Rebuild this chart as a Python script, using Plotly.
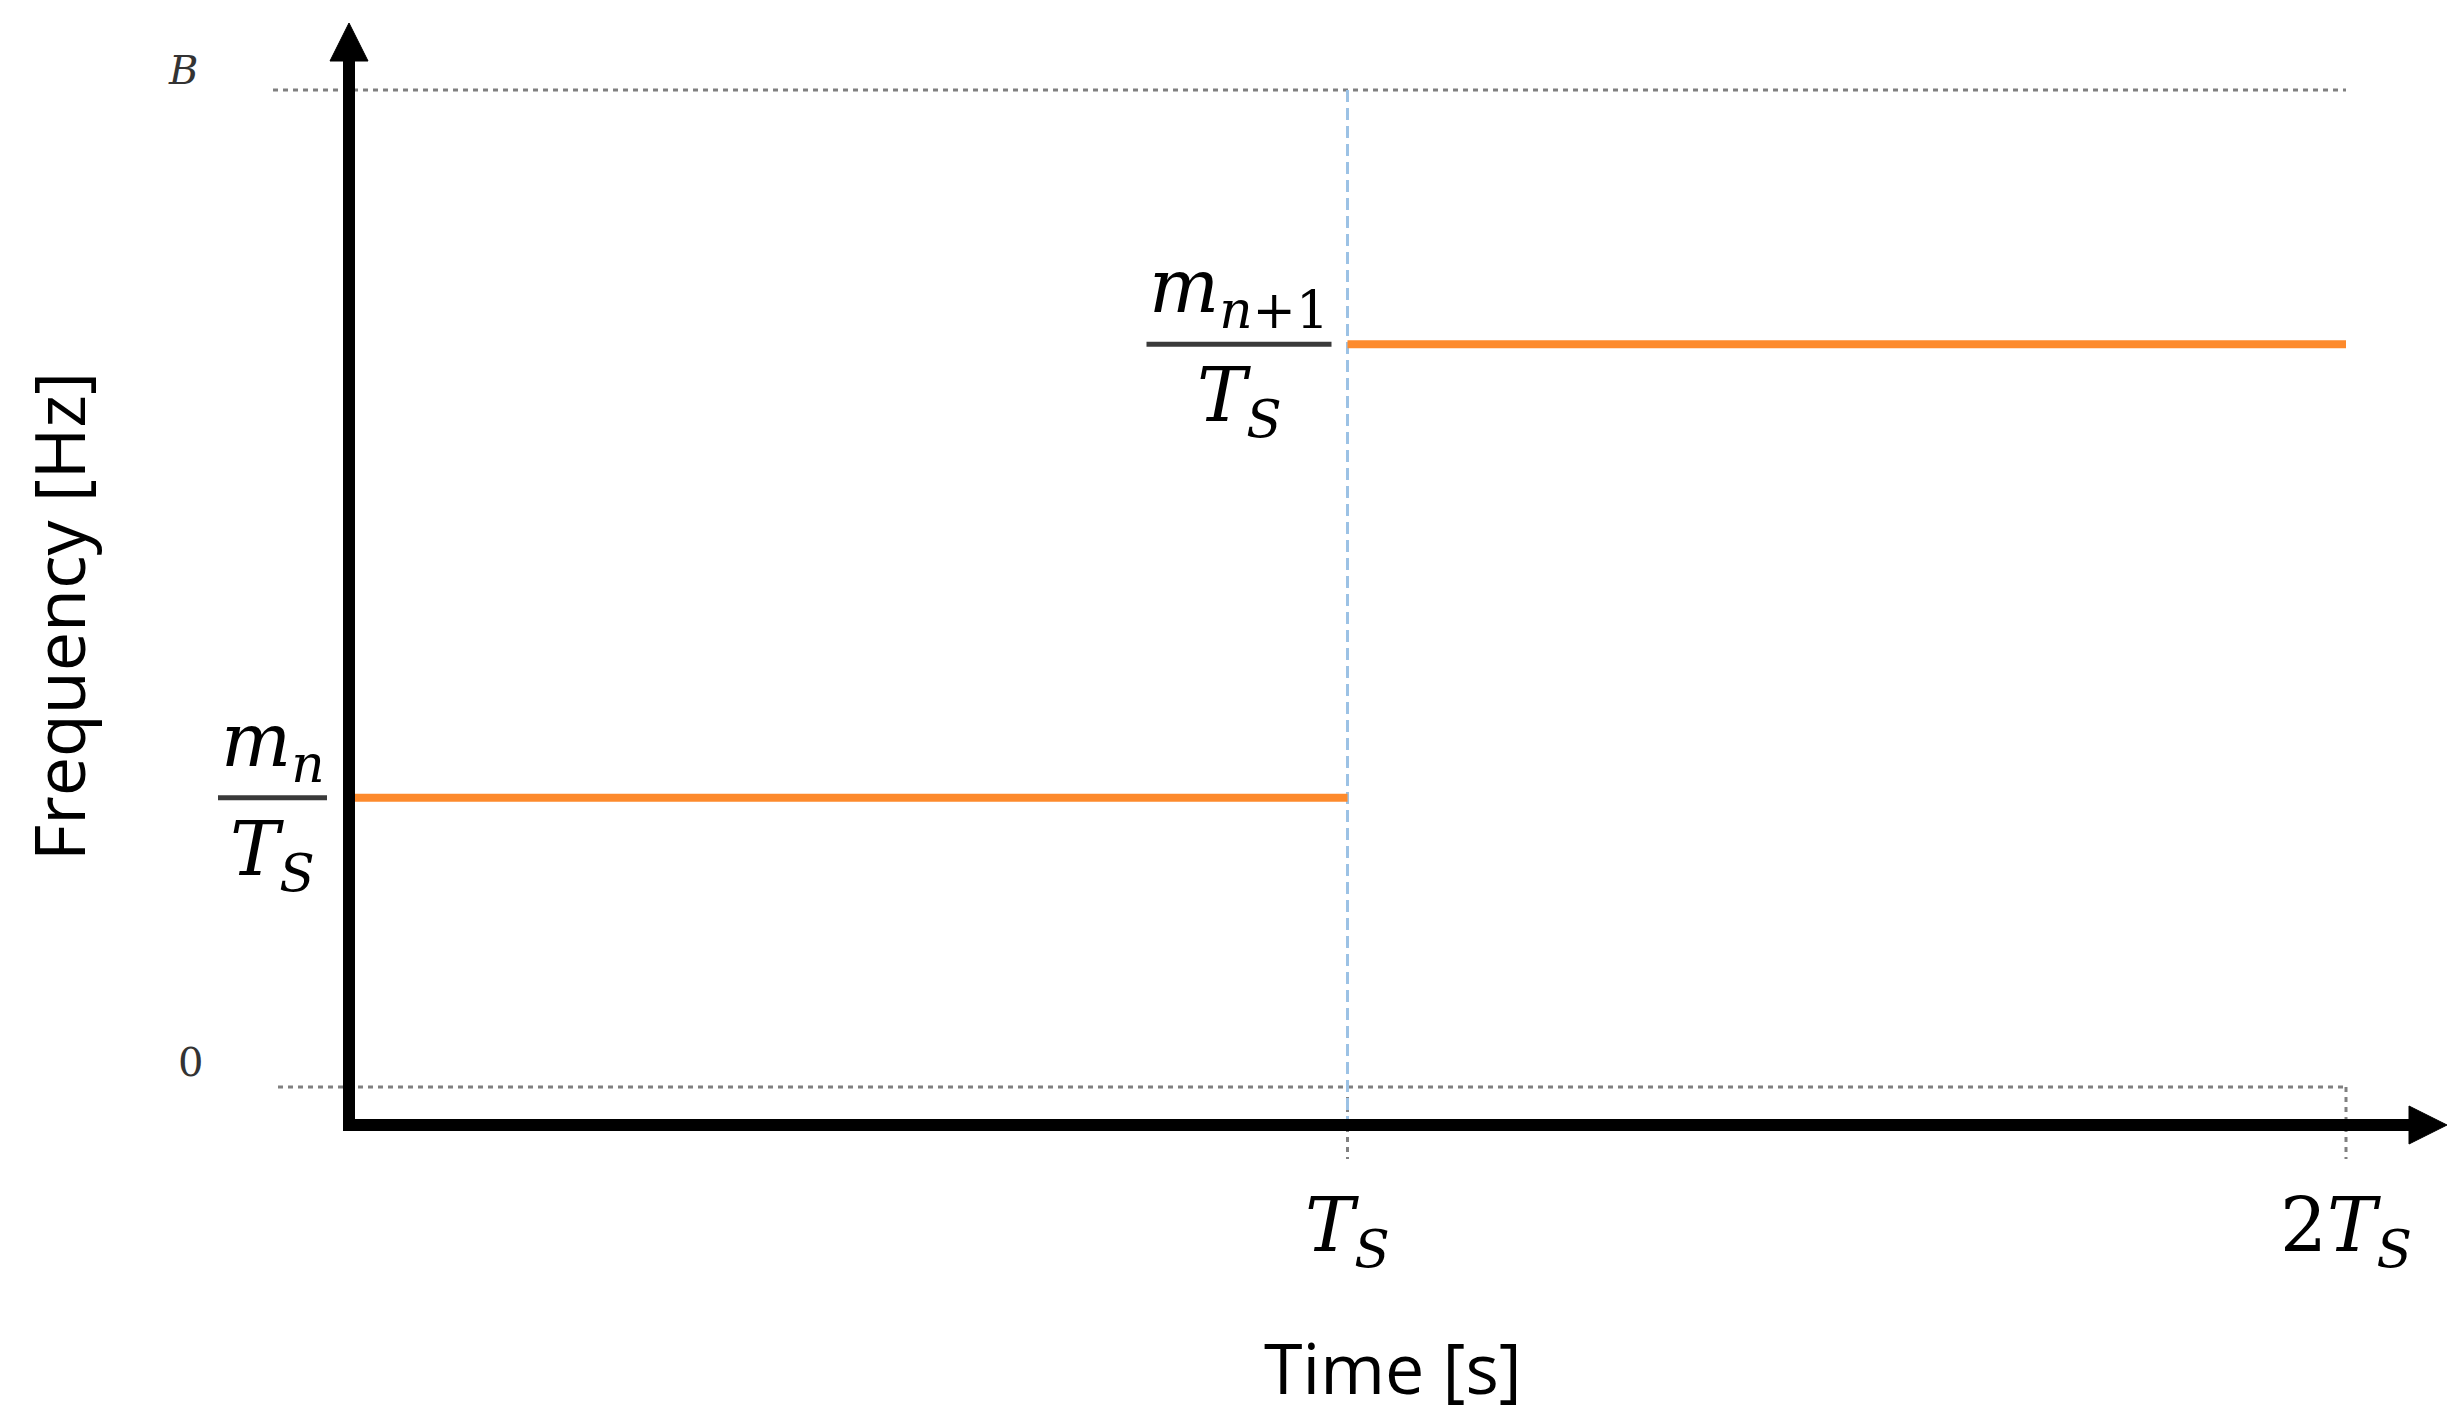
"""Frequency step diagram: tone frequency over two symbol periods"""

import plotly.graph_objects as go

# data: time in units of T_S, frequency as a fraction of the band B
time_edges = [0, 1, 2]
freq_levels = [0.29, 0.745]
band_levels = [0, 1]  # the dotted "0" and "B" reference lines
tick_vals = [1, 2]
tick_text = ["<i>T</i><sub><i>S</i></sub>", "2<i>T</i><sub><i>S</i></sub>"]
level_num = ["<i>m</i><sub><i>n</i></sub>", "<i>m</i><sub><i>n</i>+1</sub>"]
level_den = "<i>T</i><sub><i>S</i></sub>"

W, H = 2457, 1426
PAGE_PAD = 8  # browser body margin around the plot div
# pixel calibration of the reference picture (plot-div coordinates)
X0_PX, X_UNIT_PX = 349 - PAGE_PAD, 998.5
Y0_PX, Y_UNIT_PX = 1087 - PAGE_PAD, 997


def dx(px):
    return px / X_UNIT_PX


def dy(px):
    return px / Y_UNIT_PX


x_range = [-X0_PX / X_UNIT_PX, (W - X0_PX) / X_UNIT_PX]
y_range = [(Y0_PX - H) / Y_UNIT_PX, Y0_PX / Y_UNIT_PX]

GREY = "#808080"
BLUE = "#9cc2e5"
ORANGE = "#fd8a2c"
MATH_FONT = "DejaVu Serif"
TEXT_FONT = "Open Sans"

fig = go.Figure()

# dotted reference lines at 0 and B
for lvl, start in zip(band_levels, [-dx(71), -dx(76)]):
    fig.add_trace(go.Scatter(
        x=[start, time_edges[-1]], y=[lvl, lvl], mode="lines",
        line=dict(color=GREY, width=3, dash="5px,5px"),
        showlegend=False, hoverinfo="skip",
    ))

# dotted tick marks below the axis
for t in tick_vals:
    fig.add_trace(go.Scatter(
        x=[t, t], y=[band_levels[0], -dy(72)], mode="lines",
        line=dict(color=GREY, width=3, dash="5px,5px"),
        showlegend=False, hoverinfo="skip",
    ))

# symbol boundary
fig.add_trace(go.Scatter(
    x=[time_edges[1], time_edges[1]], y=[band_levels[1], -dy(38)], mode="lines",
    line=dict(color=BLUE, width=3, dash="12px,6px"),
    showlegend=False, hoverinfo="skip",
))

# frequency steps
step_x, step_y = [], []
for i, lvl in enumerate(freq_levels):
    step_x += [time_edges[i], time_edges[i + 1], None]
    step_y += [lvl, lvl, None]
fig.add_trace(go.Scatter(
    x=step_x, y=step_y, mode="lines",
    line=dict(color=ORANGE, width=8),
    showlegend=False, hoverinfo="skip",
))

# axes with arrows
axis_y = -dy(38)
y_tip = dy(Y0_PX - (23 - PAGE_PAD))
x_tip = dx(2447 - PAGE_PAD - X0_PX)
head = 38
fig.add_trace(go.Scatter(
    x=[0, 0, x_tip - dx(head)], y=[y_tip - dy(head), axis_y, axis_y],
    mode="lines", line=dict(color="black", width=12),
    showlegend=False, hoverinfo="skip",
))
# arrow heads
fig.add_trace(go.Scatter(
    x=[-dx(head / 2), dx(head / 2), 0, -dx(head / 2)],
    y=[y_tip - dy(head), y_tip - dy(head), y_tip, y_tip - dy(head)],
    fill="toself", fillcolor="black", mode="lines", line=dict(color="black", width=1),
    showlegend=False, hoverinfo="skip",
))
fig.add_trace(go.Scatter(
    x=[x_tip - dx(head), x_tip - dx(head), x_tip, x_tip - dx(head)],
    y=[axis_y - dy(head / 2), axis_y + dy(head / 2), axis_y, axis_y - dy(head / 2)],
    fill="toself", fillcolor="black", mode="lines", line=dict(color="black", width=1),
    showlegend=False, hoverinfo="skip",
))
# square off the corner
fig.add_shape(type="rect", x0=-dx(6), x1=dx(6), y0=axis_y - dy(6), y1=axis_y + dy(6),
              fillcolor="black", line=dict(width=0), layer="above")

# fraction bars for the level labels
bar_spans = [(-dx(131), -dx(22)), (time_edges[1] - dx(201), time_edges[1] - dx(16))]
for (x0, x1), lvl in zip(bar_spans, freq_levels):
    fig.add_shape(type="line", x0=x0, x1=x1, y0=lvl, y1=lvl,
                  line=dict(color="#3a3a3a", width=5))

annotations = []
math = dict(family=MATH_FONT, size=74, color="black")
for (x0, x1), lvl, num in zip(bar_spans, freq_levels, level_num):
    xc = (x0 + x1) / 2
    annotations.append(dict(x=xc, y=lvl + dy(2), text=num, yanchor="bottom",
                            xanchor="center", font=math))
    annotations.append(dict(x=xc, y=lvl - dy(6), text=level_den, yanchor="top",
                            xanchor="center", font=math))

for t, txt in zip(tick_vals, tick_text):
    annotations.append(dict(x=t, y=-dy(143), text=txt, xanchor="center",
                            yanchor="middle", font=math))

annotations.append(dict(x=-dx(166), y=band_levels[1] + dy(20), text="<i>B</i>",
                        font=dict(family=MATH_FONT, size=40, color="#333333")))
annotations.append(dict(x=-dx(159), y=band_levels[0] + dy(25), text="0",
                        font=dict(family=MATH_FONT, size=40, color="#333333")))

annotations.append(dict(x=dx(1393 - 349), y=-dy(1367 - 1087), text="Time [s]",
                        font=dict(family=TEXT_FONT, size=70, color="black")))
annotations.append(dict(x=-dx(349 - 58), y=dy(1087 - 617), text="Frequency [Hz]",
                        textangle=-90,
                        font=dict(family=TEXT_FONT, size=70, color="black")))

for a in annotations:
    a.update(xref="x", yref="y", showarrow=False)

fig.update_layout(
    width=W,
    height=H,
    margin=dict(l=0, r=0, t=0, b=0),
    plot_bgcolor="white",
    paper_bgcolor="white",
    annotations=annotations,
    xaxis=dict(range=x_range, visible=False, fixedrange=True),
    yaxis=dict(range=y_range, visible=False, fixedrange=True),
)

fig.write_html("out.html")
